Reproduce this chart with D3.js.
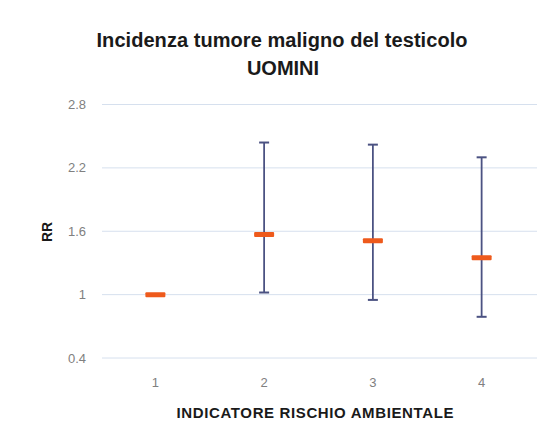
<!DOCTYPE html>
<html>
<head>
<meta charset="utf-8">
<script src="https://cdn.jsdelivr.net/npm/d3@7"></script>
<style>
  body { margin: 0; background: #fff; }
  text { font-family: "Liberation Sans", Arial, sans-serif; }
</style>
</head>
<body>
<div id="graph"></div>
<script>
// data
var categories = ["1", "2", "3", "4"]
var rr        = [1.00, 1.57, 1.51, 1.35]
var lower     = [null, 1.02, 0.95, 0.79]
var upper     = [null, 2.44, 2.42, 2.30]
var yTicks    = [0.4, 1, 1.6, 2.2, 2.8]

var width = 549, height = 435

var svg = d3.select('#graph').append('svg')
  .attr('width', width)
  .attr('height', height)

var x = d3.scalePoint()
  .domain(categories)
  .range([101, 536])
  .padding(0.5)

var y = d3.scaleLinear()
  .domain([0.4, 2.8])
  .range([358, 104.5])

// gridlines
svg.selectAll('line.grid').data(yTicks).enter().append('line')
  .attr('class', 'grid')
  .attr('x1', 102).attr('x2', 537)
  .attr('y1', d => y(d)).attr('y2', d => y(d))
  .attr('stroke', '#d6e0ee')
  .attr('stroke-width', 1)

// y tick labels
svg.selectAll('text.ytick').data(yTicks).enter().append('text')
  .attr('class', 'ytick')
  .attr('x', 86)
  .attr('y', d => y(d))
  .attr('dy', '0.35em')
  .attr('text-anchor', 'end')
  .attr('font-size', '13px')
  .attr('fill', '#808080')
  .text(d => d)

// x tick labels
svg.selectAll('text.xtick').data(categories).enter().append('text')
  .attr('class', 'xtick')
  .attr('x', d => x(d))
  .attr('y', 387)
  .attr('text-anchor', 'middle')
  .attr('font-size', '13px')
  .attr('fill', '#808080')
  .text(d => d)

var rows = categories.map((c, i) => ({ c: c, v: rr[i], lo: lower[i], hi: upper[i] }))
var bars = rows.filter(d => d.lo != null)

// error bars
svg.selectAll('line.err').data(bars).enter().append('line')
  .attr('x1', d => x(d.c)).attr('x2', d => x(d.c))
  .attr('y1', d => y(d.lo)).attr('y2', d => y(d.hi))
  .attr('stroke', '#4b5282')
  .attr('stroke-width', 1.8)

svg.selectAll('line.capTop').data(bars).enter().append('line')
  .attr('x1', d => x(d.c) - 5).attr('x2', d => x(d.c) + 5)
  .attr('y1', d => y(d.hi)).attr('y2', d => y(d.hi))
  .attr('stroke', '#4b5282')
  .attr('stroke-width', 2)

svg.selectAll('line.capBot').data(bars).enter().append('line')
  .attr('x1', d => x(d.c) - 5).attr('x2', d => x(d.c) + 5)
  .attr('y1', d => y(d.lo)).attr('y2', d => y(d.lo))
  .attr('stroke', '#4b5282')
  .attr('stroke-width', 2)

// point estimates (dash markers)
svg.selectAll('rect.mark').data(rows).enter().append('rect')
  .attr('x', d => x(d.c) - 10)
  .attr('y', d => y(d.v) - 2.5)
  .attr('width', 20)
  .attr('height', 5)
  .attr('rx', 1)
  .attr('fill', '#ee5a1c')

// titles
svg.append('text')
  .attr('x', 282).attr('y', 47)
  .attr('text-anchor', 'middle')
  .attr('font-size', '20px')
  .attr('font-weight', 'bold')
  .attr('fill', '#1a1a1a')
  .attr('textLength', 371)
  .text('Incidenza tumore maligno del testicolo')

svg.append('text')
  .attr('x', 283).attr('y', 75)
  .attr('text-anchor', 'middle')
  .attr('font-size', '20px')
  .attr('font-weight', 'bold')
  .attr('fill', '#1a1a1a')
  .text('UOMINI')

svg.append('text')
  .attr('x', 315).attr('y', 418)
  .attr('text-anchor', 'middle')
  .attr('font-size', '15px')
  .attr('font-weight', 'bold')
  .attr('fill', '#1a1a1a')
  .attr('textLength', 277)
  .text('INDICATORE RISCHIO AMBIENTALE')

svg.append('text')
  .attr('transform', 'translate(52,232) rotate(-90)')
  .attr('text-anchor', 'middle')
  .attr('font-size', '14px')
  .attr('font-weight', 'bold')
  .attr('fill', '#1a1a1a')
  .text('RR')
</script>
</body>
</html>
